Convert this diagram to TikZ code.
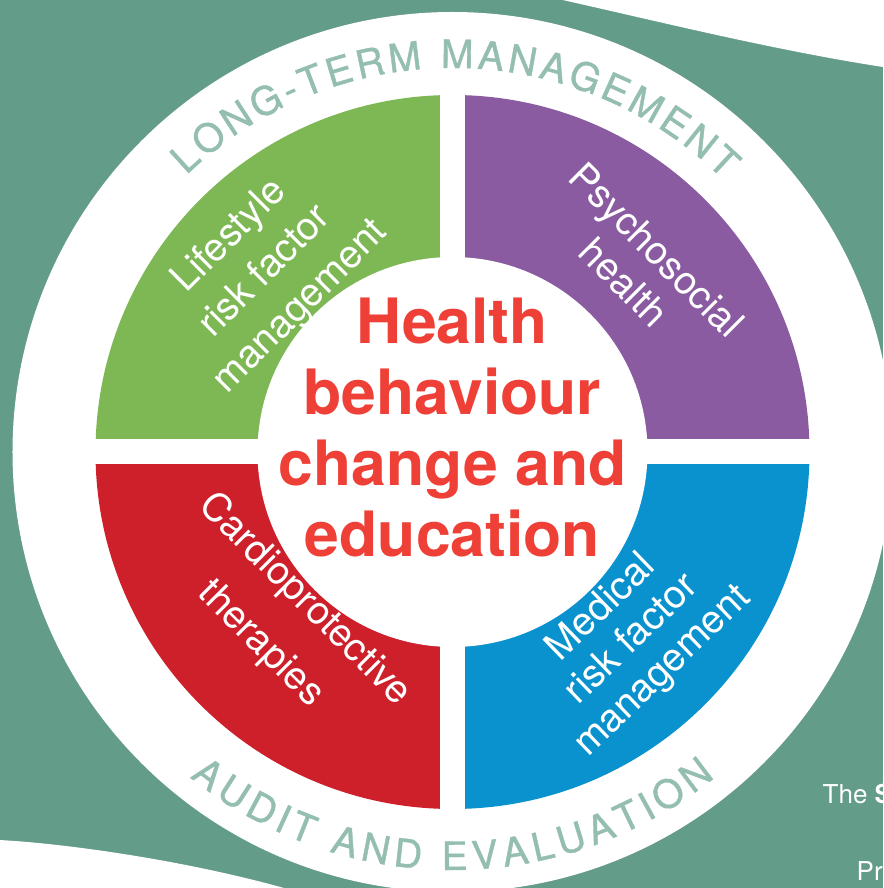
\documentclass[tikz,border=0pt]{standalone}
\usepackage{fontspec}
\setmainfont{TeX Gyre Heros}
\newfontfamily\ringfamily[FakeBold=1]{TeX Gyre Heros}

\definecolor{bgteal}{RGB}{99,156,136}
\definecolor{ringtxt}{RGB}{148,190,175}
\definecolor{lifegreen}{RGB}{125,184,84}
\definecolor{psypurple}{RGB}{138,91,161}
\definecolor{cardred}{RGB}{205,32,43}
\definecolor{medblue}{RGB}{9,146,206}
\definecolor{healthred}{RGB}{238,64,54}

\def\ringsize{39}
\newcommand\ringfont{\ringfamily\fontsize{39}{39}\selectfont}

% Letters set one by one along a circle.
% #1 name prefix, #2 radius used for spacing, #3 baseline radius, #4 centre angle,
% #5 reading sense (1 = clockwise over the top, -1 = anticlockwise under the bottom),
% #6 extra tracking, #7 letters as char/advance in 1/1000 em
\newcommand\ringtext[7]{%
  \xdef\ringtot{0}\xdef\ringn{0}%
  \foreach \ringch/\ringcw in {#7}{%
    \pgfmathsetmacro\ringtmp{\ringtot+\ringcw/1000*\ringsize}\xdef\ringtot{\ringtmp}%
    \pgfmathtruncatemacro\ringtmp{\ringn+1}\xdef\ringn{\ringtmp}}%
  \pgfmathsetmacro\ringlen{\ringtot+(\ringn-1)*#6}%
  \xdef\ringpos{0}%
  \foreach \ringch/\ringcw [count=\k] in {#7}{%
    \pgfmathsetmacro\ringhalf{\ringcw/2000*\ringsize}%
    \pgfmathsetmacro\ringang{#4-(#5)*(\ringpos+\ringhalf-\ringlen/2)/#2*180/pi}%
    \pgfmathsetmacro\ringrot{\ringang-(#5)*90}%
    \node[ringletter, rotate=\ringrot] (#1-\k) at (\ringang:#3) {\ringch};
    \pgfmathsetmacro\ringtmp{\ringpos+2*\ringhalf+#6}\xdef\ringpos{\ringtmp}%
  }%
}

\begin{document}
\begin{tikzpicture}[x=1pt,y=1pt,
  quadtext/.style={text=white, align=center, inner sep=0pt,
                   font=\fontsize{39}{#1}\selectfont},
  ringletter/.style={text=ringtxt, font=\ringfont, anchor=base, inner sep=0pt},
  centretext/.style={text=healthred, align=center, inner sep=0pt,
                     font=\bfseries\fontsize{62.5}{71}\selectfont},
  cornertext/.style={text=white, inner sep=0pt, anchor=base west,
                     font=\fontsize{26}{26}\selectfont}]
\useasboundingbox (-452.5,-436) rectangle (430.5,452);
\clip (-452.5,-436) rectangle (430.5,452);

% background with the two white swoops
\fill[bgteal] (-452.5,-436) rectangle (430.5,452);
\fill[white] (110,452) .. controls (200,432) and (320,402) .. (430.5,385)
             -- (431,453) -- cycle;
\fill[white] (-453,-388) .. controls (-380,-392) and (-260,-410) .. (-165,-437)
             -- (-453,-437) -- cycle;

% white outer ring
\fill[white] (0,0) circle[radius=440];

% four coloured quarters
\fill[lifegreen] (0,0) -- (180:357) arc[start angle=180, end angle=90, radius=357] -- cycle;
\fill[psypurple] (0,0) -- (90:357) arc[start angle=90, end angle=0, radius=357] -- cycle;
\fill[medblue] (0,0) -- (0:357) arc[start angle=0, end angle=-90, radius=357] -- cycle;
\fill[cardred] (0,0) -- (-90:357) arc[start angle=-90, end angle=-180, radius=357] -- cycle;
\fill[white] (-12.5,-370) rectangle (12.5,370);
\fill[white] (-370,-12.5) rectangle (370,12.5);
\fill[white] (0,0) circle[radius=195];

% centre
\node[centretext] (hbce) at (0,25) {Health\\behaviour\\change and\\education};

% quarter labels
\node[quadtext=50, rotate=45] (lifestyle) at (-187,180) {Lifestyle\\risk factor\\management};
\node[quadtext=46, rotate=-45] (psycho) at (188,186) {Psychosocial\\health};
\node[quadtext=62, rotate=-45] (cardio) at (-170,-170) {Cardioprotective\\therapies};
\node[quadtext=44, rotate=44] (medical) at (180,-188) {Medical\\risk factor\\management};

% ring captions
\ringtext{ltm}{398}{384}{89.5}{1}{4.8}{L/556,O/778,N/722,G/778,-/333,T/611,E/667,R/722,M/833,~/278,M/833,A/667,N/722,A/667,G/778,E/667,M/833,E/667,N/722,T/611}
\ringtext{aae}{404}{418}{270}{-1}{4.3}{A/667,U/722,D/722,I/278,T/611,~/278,A/667,N/722,D/722,~/278,E/667,V/667,A/667,L/556,U/722,A/667,T/611,I/278,O/778,N/722}

% corner captions
\node[cornertext] (the) at (370,-351) {The \textbf{S}};
\node[cornertext] (pr) at (404,-428) {Pr};
\end{tikzpicture}
\end{document}
